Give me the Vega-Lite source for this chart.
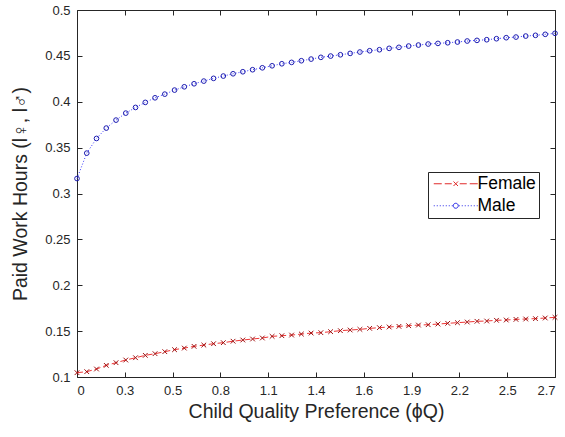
{
  "$schema": "https://vega.github.io/schema/vega-lite/v6.json",
  "autosize": "none",
  "width": 478,
  "height": 367,
  "padding": {"left": 77, "top": 10, "right": 10, "bottom": 60},
  "background": "white",
  "config": {
    "view": {"stroke": null},
    "font": "Liberation Sans",
    "axis": {
      "domainColor": "#262626",
      "tickColor": "#262626",
      "labelColor": "#262626",
      "titleColor": "#262626",
      "labelFont": "Liberation Sans",
      "titleFont": "Liberation Sans",
      "labelFontSize": 13,
      "titleFontSize": 19.5,
      "titleFontWeight": "normal",
      "grid": false,
      "tickSize": -5,
      "domainWidth": 1,
      "tickWidth": 1
    }
  },
  "data": {"values": [
    {"x":0,"g":"Male","v":0.3163},{"x":0.0551,"g":"Male","v":0.344},{"x":0.1102,"g":"Male","v":0.36},{"x":0.1653,"g":"Male","v":0.3713},{"x":0.2204,"g":"Male","v":0.38},{"x":0.2755,"g":"Male","v":0.3876},{"x":0.3306,"g":"Male","v":0.3938},{"x":0.3857,"g":"Male","v":0.3993},{"x":0.4408,"g":"Male","v":0.4043},{"x":0.4959,"g":"Male","v":0.4083},
    {"x":0.551,"g":"Male","v":0.4127},{"x":0.6061,"g":"Male","v":0.4163},{"x":0.6612,"g":"Male","v":0.4196},{"x":0.7163,"g":"Male","v":0.4225},{"x":0.7714,"g":"Male","v":0.4255},{"x":0.8265,"g":"Male","v":0.428},{"x":0.8816,"g":"Male","v":0.4305},{"x":0.9367,"g":"Male","v":0.4327},{"x":0.9918,"g":"Male","v":0.4349},{"x":1.0469,"g":"Male","v":0.437},
    {"x":1.102,"g":"Male","v":0.4392},{"x":1.1571,"g":"Male","v":0.4414},{"x":1.2122,"g":"Male","v":0.4429},{"x":1.2673,"g":"Male","v":0.4447},{"x":1.3224,"g":"Male","v":0.4465},{"x":1.3776,"g":"Male","v":0.4484},{"x":1.4327,"g":"Male","v":0.4498},{"x":1.4878,"g":"Male","v":0.4512},{"x":1.5429,"g":"Male","v":0.4527},{"x":1.598,"g":"Male","v":0.4542},
    {"x":1.6531,"g":"Male","v":0.4556},{"x":1.7082,"g":"Male","v":0.4567},{"x":1.7633,"g":"Male","v":0.4582},{"x":1.8184,"g":"Male","v":0.4593},{"x":1.8735,"g":"Male","v":0.4607},{"x":1.9286,"g":"Male","v":0.4618},{"x":1.9837,"g":"Male","v":0.4629},{"x":2.0388,"g":"Male","v":0.4636},{"x":2.0939,"g":"Male","v":0.4643},{"x":2.149,"g":"Male","v":0.4651},
    {"x":2.2041,"g":"Male","v":0.4662},{"x":2.2592,"g":"Male","v":0.4669},{"x":2.3143,"g":"Male","v":0.4676},{"x":2.3694,"g":"Male","v":0.4687},{"x":2.4245,"g":"Male","v":0.4698},{"x":2.4796,"g":"Male","v":0.4705},{"x":2.5347,"g":"Male","v":0.4716},{"x":2.5898,"g":"Male","v":0.4724},{"x":2.6449,"g":"Male","v":0.4735},{"x":2.7,"g":"Male","v":0.4746},
    {"x":0,"g":"Female","v":0.1047},{"x":0.0551,"g":"Female","v":0.1058},{"x":0.1102,"g":"Female","v":0.1087},{"x":0.1653,"g":"Female","v":0.1127},{"x":0.2204,"g":"Female","v":0.1156},{"x":0.2755,"g":"Female","v":0.1185},{"x":0.3306,"g":"Female","v":0.121},{"x":0.3857,"g":"Female","v":0.1236},{"x":0.4408,"g":"Female","v":0.1254},{"x":0.4959,"g":"Female","v":0.1276},
    {"x":0.551,"g":"Female","v":0.1298},{"x":0.6061,"g":"Female","v":0.1315},{"x":0.6612,"g":"Female","v":0.1334},{"x":0.7163,"g":"Female","v":0.1348},{"x":0.7714,"g":"Female","v":0.1363},{"x":0.8265,"g":"Female","v":0.1374},{"x":0.8816,"g":"Female","v":0.139},{"x":0.9367,"g":"Female","v":0.1403},{"x":0.9918,"g":"Female","v":0.1414},{"x":1.0469,"g":"Female","v":0.1425},
    {"x":1.102,"g":"Female","v":0.1443},{"x":1.1571,"g":"Female","v":0.145},{"x":1.2122,"g":"Female","v":0.1457},{"x":1.2673,"g":"Female","v":0.1468},{"x":1.3224,"g":"Female","v":0.1479},{"x":1.3776,"g":"Female","v":0.1483},{"x":1.4327,"g":"Female","v":0.1494},{"x":1.4878,"g":"Female","v":0.1505},{"x":1.5429,"g":"Female","v":0.1512},{"x":1.598,"g":"Female","v":0.1519},
    {"x":1.6531,"g":"Female","v":0.153},{"x":1.7082,"g":"Female","v":0.1538},{"x":1.7633,"g":"Female","v":0.1545},{"x":1.8184,"g":"Female","v":0.1552},{"x":1.8735,"g":"Female","v":0.1559},{"x":1.9286,"g":"Female","v":0.1566},{"x":1.9837,"g":"Female","v":0.157},{"x":2.0388,"g":"Female","v":0.1577},{"x":2.0939,"g":"Female","v":0.1585},{"x":2.149,"g":"Female","v":0.1592},
    {"x":2.2041,"g":"Female","v":0.1599},{"x":2.2592,"g":"Female","v":0.1607},{"x":2.3143,"g":"Female","v":0.161},{"x":2.3694,"g":"Female","v":0.1618},{"x":2.4245,"g":"Female","v":0.1621},{"x":2.4796,"g":"Female","v":0.1628},{"x":2.5347,"g":"Female","v":0.1632},{"x":2.5898,"g":"Female","v":0.1636},{"x":2.6449,"g":"Female","v":0.1643},{"x":2.7,"g":"Female","v":0.165}
  ]},
  "resolve": {"axis": {"x": "independent", "y": "independent"}, "scale": {"shape": "independent", "stroke": "independent"}},
  "layer": [
    {
      "mark": {"type": "line", "strokeWidth": 1},
      "encoding": {
        "x": {"field": "x", "type": "quantitative",
          "scale": {"domain": [0, 2.7], "nice": false, "zero": false},
          "axis": {"orient": "bottom", "values": [0,0.27,0.54,0.81,1.08,1.35,1.62,1.89,2.16,2.43,2.7],
            "labelExpr": "['0','0.3','0.5','0.8','1.1','1.4','1.6','1.9','2.2','2.5','2.7'][round(datum.value/0.27)]",
            "labelPadding": 12, "title": "Child Quality Preference (ϕQ)", "titlePadding": 5}},
        "y": {"field": "v", "type": "quantitative",
          "scale": {"domain": [0.1, 0.5], "nice": false, "zero": false},
          "axis": {"orient": "left", "values": [0.1,0.15,0.2,0.25,0.3,0.35,0.4,0.45,0.5], "format": "~g",
            "labelPadding": 12, "title": "Paid Work Hours (l♀, l♂)", "titlePadding": 14}},
        "stroke": {"field": "g", "type": "nominal",
          "scale": {"domain": ["Female", "Male"], "range": ["#f03535", "#3a3aff"]}, "legend": null},
        "strokeDash": {"field": "g", "type": "nominal",
          "scale": {"domain": ["Female", "Male"], "range": [[6, 3], [1, 2]]}, "legend": null}
      }
    },
    {
      "mark": {"type": "point", "filled": false, "strokeWidth": 1, "size": 22, "opacity": 1},
      "encoding": {
        "x": {"field": "x", "type": "quantitative",
          "axis": {"orient": "top", "values": [0,0.27,0.54,0.81,1.08,1.35,1.62,1.89,2.16,2.43,2.7], "labels": false, "title": null}},
        "y": {"field": "v", "type": "quantitative",
          "axis": {"orient": "right", "values": [0.1,0.15,0.2,0.25,0.3,0.35,0.4,0.45,0.5], "labels": false, "title": null}},
        "shape": {"field": "g", "type": "nominal",
          "scale": {"domain": ["Female", "Male"], "range": ["M-1,-1L1,1M-1,1L1,-1", "circle"]}, "legend": null},
        "color": {"field": "g", "type": "nominal",
          "scale": {"domain": ["Female", "Male"], "range": ["#a01010", "#1c1cb0"]}, "legend": null}
      }
    },
    {
      "mark": {"type": "point", "filled": false, "strokeWidth": 1, "size": 100, "opacity": 0},
      "encoding": {
        "x": {"field": "x", "type": "quantitative", "axis": null},
        "y": {"field": "v", "type": "quantitative", "axis": null},
        "shape": {"field": "g", "type": "nominal",
          "scale": {"domain": ["Female", "Male"], "range": [
            "M-4.4,0H-2.8M-2.2,0H-0.8M0.8,0H2.2M2.8,0H4.4M-0.45,-0.45L0.45,0.45M-0.45,0.45L0.45,-0.45",
            "M-4.4,0h0.2M-3.8,0h0.2M-3.2,0h0.2M-2.6,0h0.2M-2,0h0.2M-1.4,0h0.2M-0.8,0h0.2M0.6,0h0.2M1.2,0h0.2M1.8,0h0.2M2.4,0h0.2M3,0h0.2M3.6,0h0.2M4.2,0h0.2M0.5,0A0.5,0.5 0 1,1 -0.5,0A0.5,0.5 0 1,1 0.5,0"]},
          "legend": {
            "orient": "none", "legendX": 351, "legendY": 162, "title": null,
            "labelFontSize": 17.5, "labelColor": "#000000", "labelFont": "Liberation Sans",
            "strokeColor": "#262626", "fillColor": "white", "padding": 3, "rowPadding": 3,
            "symbolOffset": 16, "labelOffset": 13,
            "symbolSize": 100, "symbolStrokeWidth": 1, "symbolOpacity": 1}},
        "stroke": {"field": "g", "type": "nominal",
          "scale": {"domain": ["Female", "Male"], "range": ["#e02a2a", "#2a2ae8"]},
          "legend": {"orient": "none", "legendX": 351, "legendY": 162, "title": null,
            "labelFontSize": 17.5, "labelColor": "#000000", "labelFont": "Liberation Sans",
            "strokeColor": "#262626", "fillColor": "white", "padding": 3, "rowPadding": 3,
            "symbolOffset": 16, "labelOffset": 13,
            "symbolSize": 100, "symbolStrokeWidth": 1, "symbolOpacity": 1}}
      }
    }
  ]
}
